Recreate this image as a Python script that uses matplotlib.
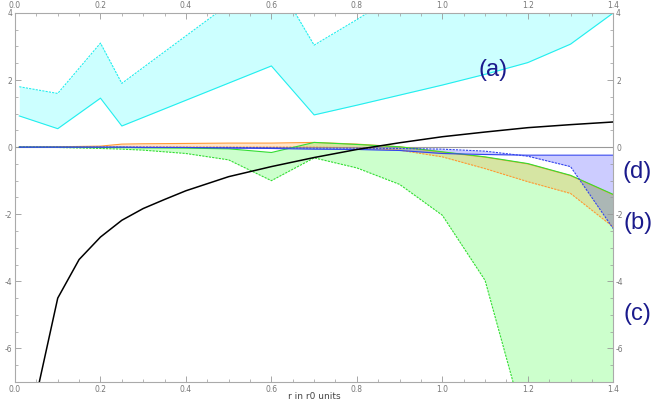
import matplotlib
matplotlib.use("Agg")
import matplotlib.pyplot as plt
from matplotlib.ticker import MultipleLocator, FuncFormatter

# cyan band (a)
x_a = [0.01, 0.1, 0.2, 0.25, 0.6, 0.7, 0.8, 0.9, 1.0, 1.1, 1.2, 1.3, 1.4]
a_low = [0.93, 0.55, 1.46, 0.63, 2.42, 0.96, 1.25, 1.55, 1.85, 2.17, 2.52, 3.07, 4.0]
a_high = [1.80, 1.60, 3.10, 1.90, 5.2, 3.04, 3.8, 4.6, 5.4, 6.2, 7.0, 8.0, 9.0]

# green (c), orange (b), blue (d) bands
x_b = [0.01, 0.1, 0.2, 0.25, 0.3, 0.4, 0.5, 0.6, 0.7, 0.8, 0.9, 1.0, 1.1, 1.2, 1.3, 1.4]
c_high = [0.0, 0.0, -0.01, -0.01, -0.02, -0.03, -0.05, -0.16, 0.14, 0.08, 0.01, -0.14, -0.29, -0.49, -0.84, -1.41]
c_low = [0.0, -0.01, -0.04, -0.06, -0.09, -0.19, -0.38, -1.0, -0.32, -0.62, -1.11, -2.03, -3.97, -8.6, -12.0, -15.0]
b_high = [0.0, 0.01, 0.03, 0.09, 0.10, 0.11, 0.12, 0.12, 0.14, 0.09, 0.01, -0.15, -0.30, -0.50, -0.85, -1.42]
b_low = [0.0, 0.0, 0.0, 0.0, 0.0, 0.0, 0.0, 0.0, 0.0, -0.02, -0.09, -0.29, -0.64, -1.03, -1.38, -2.38]
d_high = [0.0, 0.0, 0.0, 0.0, 0.0, -0.01, -0.01, -0.02, -0.03, -0.03, -0.04, -0.06, -0.12, -0.27, -0.58, -2.43]
d_low = [0.0, 0.0, 0.0, 0.0, -0.01, -0.01, -0.03, -0.04, -0.06, -0.07, -0.1, -0.19, -0.22, -0.24, -0.24, -0.24]

# black curve
x_k = [0.05, 0.1, 0.15, 0.2, 0.25, 0.3, 0.35, 0.4, 0.5, 0.6, 0.7, 0.8, 0.9, 1.0, 1.1, 1.2, 1.3, 1.4]
k_y = [-7.4, -4.5, -3.35, -2.68, -2.18, -1.83, -1.56, -1.30, -0.88, -0.58, -0.31, -0.07, 0.13, 0.31, 0.45, 0.58, 0.67, 0.75]

labels = ["(a)", "(d)", "(b)", "(c)"]
label_x = [1.118, 1.457, 1.457, 1.457]
label_y = [2.3, -0.75, -2.27, -4.96]

fig = plt.figure(figsize=(6.58, 4.04), dpi=100)
ax = fig.add_axes([0.0228, 0.0545, 0.9092, 0.9135])

# (x, lower, upper, fill colour, line colour, lower dashed?)
bands = [
    (x_a, a_low, a_high, "#00ffff", "#22eeee", False),
    (x_b, c_low, c_high, "#00ff00", "#33dd33", True),
    (x_b, b_low, b_high, "#ff8000", "#ff9933", True),
    (x_b, d_low, d_high, "#0000ff", "#3344ee", False),
]
for xs, lo, hi, fc, lc, lo_dash in bands:
    ax.fill_between(xs, lo, hi, color=fc, alpha=0.2, linewidth=0)
# orange lines first so the green line stays on top
for i in [0, 2, 1, 3]:
    xs, lo, hi, fc, lc, lo_dash = bands[i]
    if lo_dash:
        ax.plot(xs, lo, color=lc, lw=0.8, dashes=(2, 1))
        ax.plot(xs, hi, color=lc, lw=0.8)
    else:
        ax.plot(xs, lo, color=lc, lw=0.8)
        ax.plot(xs, hi, color=lc, lw=0.8, dashes=(2, 1))

ax.axhline(0, color="#999999", lw=0.8, zorder=1.5)
ax.plot(x_k, k_y, color="black", lw=1.1, zorder=5)

for t, tx, ty in zip(labels, label_x, label_y):
    ax.text(tx, ty, t, color="#1a1a8c", fontsize=17, family="Liberation Sans",
            ha="center", va="center", clip_on=False)

ax.set_xlim(0, 1.4)
ax.set_ylim(-7, 4)
ax.xaxis.set_major_locator(MultipleLocator(0.2))
ax.xaxis.set_minor_locator(MultipleLocator(0.05))
ax.yaxis.set_major_locator(MultipleLocator(2))
ax.yaxis.set_minor_locator(MultipleLocator(0.5))
ax.xaxis.set_major_formatter(FuncFormatter(lambda v, p: f"{v:.1f}"))
ax.yaxis.set_major_formatter(FuncFormatter(lambda v, p: f"{v:.0f}"))
ax.tick_params(which="both", direction="in", top=True, right=True,
               labeltop=True, labelright=True, colors="#999999",
               labelcolor="#777777", labelsize=5.5, pad=2)
ax.tick_params(which="major", length=4, width=0.6)
ax.tick_params(which="minor", length=2, width=0.5)
for s in ax.spines.values():
    s.set_color("#aaaaaa")
    s.set_linewidth(0.8)

ax.set_xlabel("r in r0 units", fontsize=6.5, color="#444444")
ax.xaxis.set_label_coords(0.5, -0.028)

fig.savefig("out.png", dpi=100)
